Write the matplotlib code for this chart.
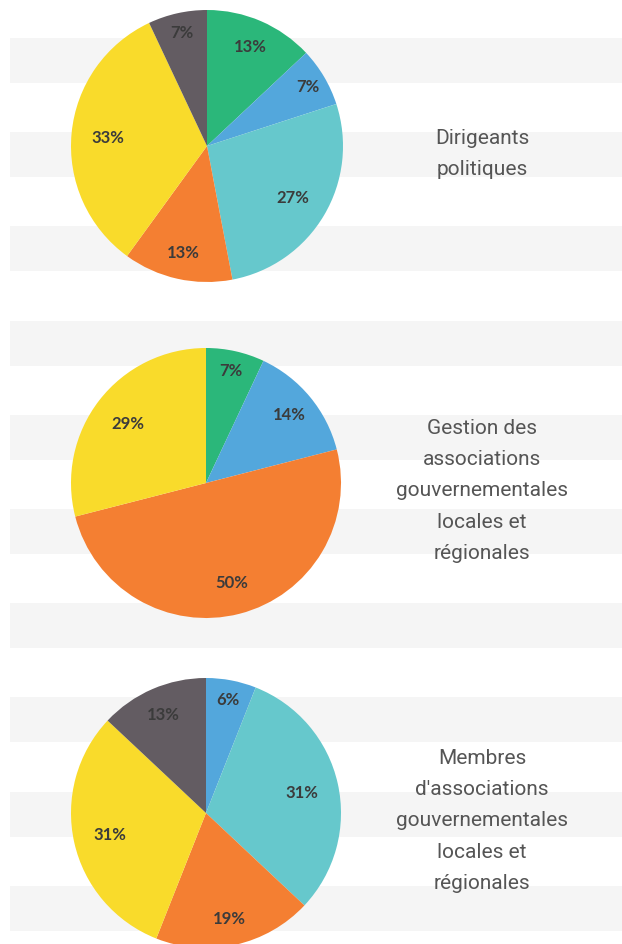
import math

import matplotlib.pyplot as plt

W, H = 622, 945

GREEN = "#2bb77a"
BLUE = "#53a7dc"
TEAL = "#66c8cc"
ORANGE = "#f47f32"
YELLOW = "#f9db2b"
DARK = "#635c62"
STRIPE = "#f5f5f5"
LABEL = "#3b3b3b"
TITLE = "#555555"

titles = [
    "Dirigeants\npolitiques",
    "Gestion des\nassociations\ngouvernementales\nlocales et\nrégionales",
    "Membres\nd'associations\ngouvernementales\nlocales et\nrégionales",
]
pie1_values = [13, 7, 27, 13, 33, 7]
pie1_colors = [GREEN, BLUE, TEAL, ORANGE, YELLOW, DARK]
pie2_values = [7, 14, 50, 29]
pie2_colors = [GREEN, BLUE, ORANGE, YELLOW]
pie3_values = [6, 31, 19, 31, 13]
pie3_colors = [BLUE, TEAL, ORANGE, YELLOW, DARK]


def label_dist(frac):
    # small slices push their label outward, big ones pull it in
    if frac < 0.1:
        return 0.86
    if frac < 0.2:
        return 0.8
    if frac < 0.4:
        return 0.73
    return 0.76


def draw_pie(fig, cx, cy, r, values, colors, title):
    ax = fig.add_axes([(cx - r) / W, 1 - (cy + r) / H, 2 * r / W, 2 * r / H])
    ax.patch.set_visible(False)
    wedges, _, autotexts = ax.pie(
        values,
        colors=colors,
        startangle=90,
        counterclock=False,
        radius=1,
        autopct=lambda p: f"{p:.0f}%",
        wedgeprops={"linewidth": 0},
        textprops={"color": LABEL, "fontsize": 12, "fontweight": "bold", "family": ["Lato", "DejaVu Sans"]},
    )
    total = sum(values)
    for w, t, v in zip(wedges, autotexts, values):
        mid = math.radians((w.theta1 + w.theta2) / 2)
        d = label_dist(v / total)
        t.set_position((d * math.cos(mid), d * math.sin(mid)))
        t.set_ha("center")
        t.set_va("center")
    ax.set_xlim(-1, 1)
    ax.set_ylim(-1, 1)
    ax.set_aspect("equal")
    ax.axis("off")

    fig.text(
        482 / W,
        1 - (cy + 7) / H,
        title,
        ha="center",
        va="center",
        fontsize=15,
        fontweight="normal",
        family=["Roboto", "DejaVu Sans"],
        color=TITLE,
        linespacing=1.82,
    )


def main():
    fig = plt.figure(figsize=(W / 100, H / 100), dpi=100)
    bg = fig.add_axes([0, 0, 1, 1])
    bg.set_xlim(0, W)
    bg.set_ylim(H, 0)
    bg.axis("off")
    for i in range(10):
        y0 = 39 + i * 94.2
        bg.axhspan(y0, y0 + 45, xmin=10 / W, xmax=1, color=STRIPE, linewidth=0)

    draw_pie(fig, 207, 147, 136, pie1_values, pie1_colors, titles[0])
    draw_pie(fig, 206, 484, 135, pie2_values, pie2_colors, titles[1])
    draw_pie(fig, 206, 814, 135, pie3_values, pie3_colors, titles[2])

    fig.savefig("out.png", dpi=100)
    plt.close(fig)


if __name__ == "__main__":
    main()
